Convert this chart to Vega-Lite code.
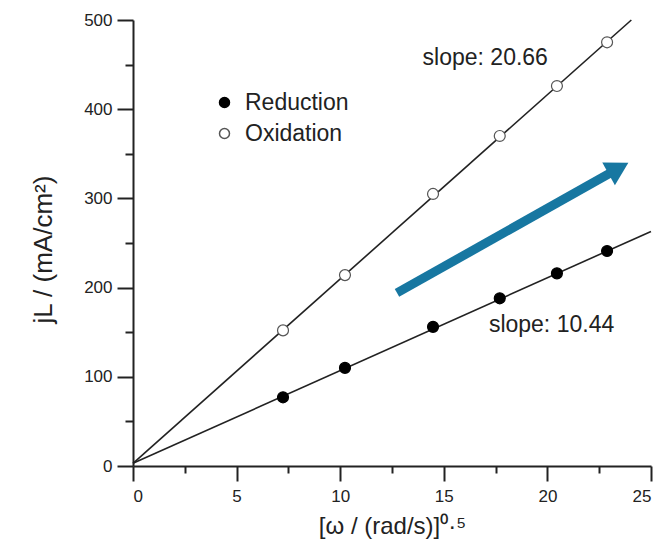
{
  "$schema": "https://vega.github.io/schema/vega-lite/v6.json",
  "width": 518,
  "height": 446,
  "autosize": {"type": "none"},
  "padding": {"left": 133, "top": 20, "right": 9, "bottom": 82},
  "background": "white",
  "config": {
    "view": {"stroke": null},
    "font": "Liberation Sans",
    "axis": {
      "grid": false,
      "domainColor": "#222",
      "domainWidth": 2,
      "tickColor": "#222",
      "tickWidth": 2,
      "labelFont": "Liberation Sans",
      "labelFontSize": 17,
      "labelColor": "#222",
      "titleFont": "Liberation Sans",
      "titleFontSize": 24,
      "titleFontWeight": "normal",
      "titleColor": "#222"
    }
  },
  "datasets": {
    "pts": [
      {"series": "Reduction", "x": 7.24, "y": 77},
      {"series": "Reduction", "x": 10.23, "y": 110},
      {"series": "Reduction", "x": 14.48, "y": 156},
      {"series": "Reduction", "x": 17.7, "y": 188},
      {"series": "Reduction", "x": 20.46, "y": 216},
      {"series": "Reduction", "x": 22.88, "y": 241},
      {"series": "Oxidation", "x": 7.24, "y": 152},
      {"series": "Oxidation", "x": 10.23, "y": 214},
      {"series": "Oxidation", "x": 14.48, "y": 305},
      {"series": "Oxidation", "x": 17.7, "y": 370},
      {"series": "Oxidation", "x": 20.46, "y": 426},
      {"series": "Oxidation", "x": 22.88, "y": 475}
    ],
    "fits": [
      {"series": "Oxidation", "x": 0, "y": 3},
      {"series": "Oxidation", "x": 24.05, "y": 500},
      {"series": "Reduction", "x": 0, "y": 3},
      {"series": "Reduction", "x": 25, "y": 263}
    ],
    "labels": [
      {"label": "slope: 20.66", "x": 17.0, "y": 457},
      {"label": "slope: 10.44", "x": 20.2, "y": 158}
    ],
    "arrow": [
      {"x": 12.74, "y": 194, "x2": 23.12, "y2": 329.6}
    ],
    "head": [
      {"x": 23.43, "y": 333.7}
    ]
  },
  "encoding": {
    "x": {
      "field": "x", "type": "quantitative",
      "scale": {"domain": [0, 25], "nice": false, "zero": false},
      "axis": {
        "title": "[ω / (rad/s)]⁰·⁵",
        "values": [0, 2.5, 5, 7.5, 10, 12.5, 15, 17.5, 20, 22.5, 25],
        "labelExpr": "datum.value % 5 == 0 ? datum.label : ''",
        "tickSize": {"condition": {"test": "datum.value % 5 == 0", "value": 15}, "value": 7},
        "labelPadding": 7,
        "titlePadding": 10
      }
    },
    "y": {
      "field": "y", "type": "quantitative",
      "scale": {"domain": [0, 500], "nice": false},
      "axis": {
        "title": "jL / (mA/cm²)",
        "titleFontSize": 26,
        "titleY": 229,
        "values": [0, 50, 100, 150, 200, 250, 300, 350, 400, 450, 500],
        "labelExpr": "datum.value % 100 == 0 ? datum.label : ''",
        "tickSize": {"condition": {"test": "datum.value % 100 == 0", "value": 16}, "value": 8},
        "labelPadding": 5,
        "titlePadding": 27
      }
    }
  },
  "layer": [
    {
      "data": {"name": "fits"},
      "mark": {"type": "line", "color": "#222", "strokeWidth": 1.6},
      "encoding": {"detail": {"field": "series"}}
    },
    {
      "data": {"name": "arrow"},
      "mark": {"type": "rule", "color": "#1777a1", "strokeWidth": 9},
      "encoding": {"x2": {"field": "x2"}, "y2": {"field": "y2"}}
    },
    {
      "data": {"name": "head"},
      "mark": {"type": "point", "shape": "triangle-up", "filled": true, "color": "#1777a1", "size": 680, "angle": 61, "opacity": 1}
    },
    {
      "data": {"name": "pts"},
      "mark": {"type": "point", "filled": true, "size": 120, "strokeWidth": 1.2, "opacity": 1},
      "encoding": {
        "fill": {
          "field": "series", "type": "nominal",
          "scale": {"domain": ["Reduction", "Oxidation"], "range": ["#000000", "#ffffff"]},
          "legend": {
            "title": null,
            "orient": "none",
            "legendX": 80,
            "legendY": 71,
            "labelFontSize": 23,
            "labelFont": "Liberation Sans",
            "labelColor": "#222",
            "symbolSize": 100,
            "rowPadding": 7,
            "labelOffset": 9
          }
        },
        "stroke": {
          "field": "series", "type": "nominal",
          "scale": {"domain": ["Reduction", "Oxidation"], "range": ["#000000", "#555555"]},
          "legend": null
        }
      }
    },
    {
      "data": {"name": "labels"},
      "mark": {"type": "text", "fontSize": 23, "color": "#222", "font": "Liberation Sans"},
      "encoding": {"text": {"field": "label"}}
    }
  ]
}
